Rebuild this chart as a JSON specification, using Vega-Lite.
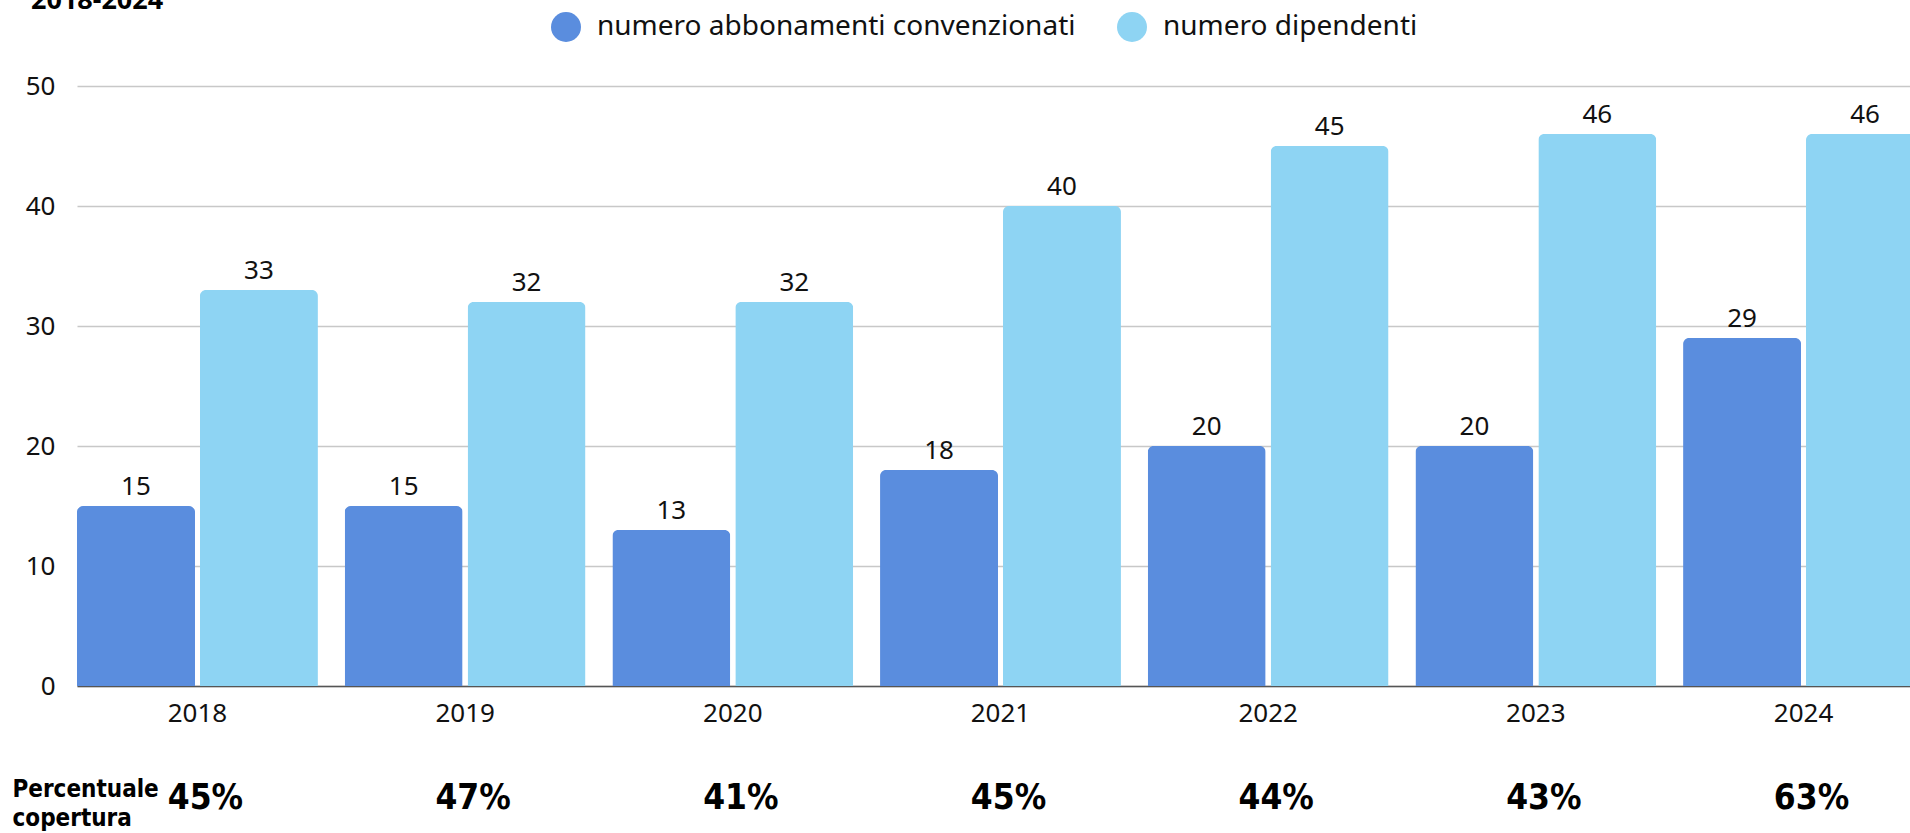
{
  "$schema": "https://vega.github.io/schema/vega-lite/v6.json",
  "width": 1847,
  "height": 600,
  "autosize": {"type": "none"},
  "padding": {"left": 77, "top": 86, "right": 0, "bottom": 147},
  "background": "white",
  "config": {"font": "Noto Sans", "view": {"stroke": null}},
  "title": {"text": "2018-2024", "anchor": "start", "frame": "group", "dx": -46, "dy": 28, "fontSize": 27, "fontWeight": "bold", "color": "#000", "baseline": "alphabetic", "offset": 4},
  "datasets": {
    "bars": [
      {"anno": "2018", "serie": "numero abbonamenti convenzionati", "valore": 15},
      {"anno": "2018", "serie": "numero dipendenti", "valore": 33},
      {"anno": "2019", "serie": "numero abbonamenti convenzionati", "valore": 15},
      {"anno": "2019", "serie": "numero dipendenti", "valore": 32},
      {"anno": "2020", "serie": "numero abbonamenti convenzionati", "valore": 13},
      {"anno": "2020", "serie": "numero dipendenti", "valore": 32},
      {"anno": "2021", "serie": "numero abbonamenti convenzionati", "valore": 18},
      {"anno": "2021", "serie": "numero dipendenti", "valore": 40},
      {"anno": "2022", "serie": "numero abbonamenti convenzionati", "valore": 20},
      {"anno": "2022", "serie": "numero dipendenti", "valore": 45},
      {"anno": "2023", "serie": "numero abbonamenti convenzionati", "valore": 20},
      {"anno": "2023", "serie": "numero dipendenti", "valore": 46},
      {"anno": "2024", "serie": "numero abbonamenti convenzionati", "valore": 29},
      {"anno": "2024", "serie": "numero dipendenti", "valore": 46}
    ],
    "perc": [
      {"anno": "2018", "copertura": "45%"},
      {"anno": "2019", "copertura": "47%"},
      {"anno": "2020", "copertura": "41%"},
      {"anno": "2021", "copertura": "45%"},
      {"anno": "2022", "copertura": "44%"},
      {"anno": "2023", "copertura": "43%"},
      {"anno": "2024", "copertura": "63%"}
    ]
  },
  "layer": [
    {
      "data": {"name": "bars"},
      "mark": {"type": "bar", "cornerRadiusTopLeft": 6, "cornerRadiusTopRight": 6},
      "encoding": {
        "x": {
          "field": "anno", "type": "nominal",
          "scale": {"paddingInner": 0.1, "paddingOuter": 0},
          "axis": {
            "title": ["Percentuale", "copertura"],
            "titleFontSize": 24, "titleFontWeight": "bold", "titleColor": "#000",
            "titleFont": "DejaVu Sans Condensed",
            "titleAnchor": "start", "titleAlign": "left", "titleBaseline": "top",
            "titleX": -65, "titleY": 91, "titleLineHeight": 29,
            "labelAngle": 0, "labelFontSize": 26, "labelColor": "#111", "labelPadding": 14,
            "ticks": false, "domainColor": "#555", "domainWidth": 1.5
          }
        },
        "xOffset": {"field": "serie", "type": "nominal", "scale": {"paddingInner": 0.04}},
        "y": {
          "field": "valore", "type": "quantitative",
          "scale": {"domain": [0, 50], "nice": false},
          "axis": {
            "title": null, "values": [0, 10, 20, 30, 40, 50], "domain": false, "ticks": false,
            "labelFontSize": 26, "labelColor": "#111", "labelPadding": 22,
            "gridColor": "#c8c8c8", "gridWidth": 1.5
          }
        },
        "color": {
          "field": "serie", "type": "nominal",
          "scale": {"domain": ["numero abbonamenti convenzionati", "numero dipendenti"], "range": ["#5A8DDE", "#8ED4F3"]},
          "legend": {
            "title": null, "orient": "none", "direction": "horizontal",
            "legendX": 474, "legendY": -74,
            "symbolType": "circle", "symbolSize": 900, "symbolStrokeWidth": 0,
            "labelFontSize": 28, "labelColor": "#111", "labelOffset": 16, "labelLimit": 700,
            "columnPadding": 41
          }
        }
      }
    },
    {
      "data": {"name": "bars"},
      "mark": {"type": "text", "baseline": "middle", "dy": -19, "fontSize": 26, "color": "#111"},
      "encoding": {
        "x": {"field": "anno", "type": "nominal"},
        "xOffset": {"field": "serie", "type": "nominal"},
        "y": {"field": "valore", "type": "quantitative"},
        "text": {"field": "valore", "type": "quantitative"}
      }
    },
    {
      "data": {"name": "perc"},
      "mark": {"type": "text", "baseline": "middle", "dx": 8, "fontSize": 35, "fontWeight": "bold", "font": "DejaVu Sans Condensed", "color": "#000"},
      "encoding": {
        "x": {"field": "anno", "type": "nominal"},
        "y": {"datum": -9.3},
        "text": {"field": "copertura", "type": "nominal"}
      }
    }
  ]
}
